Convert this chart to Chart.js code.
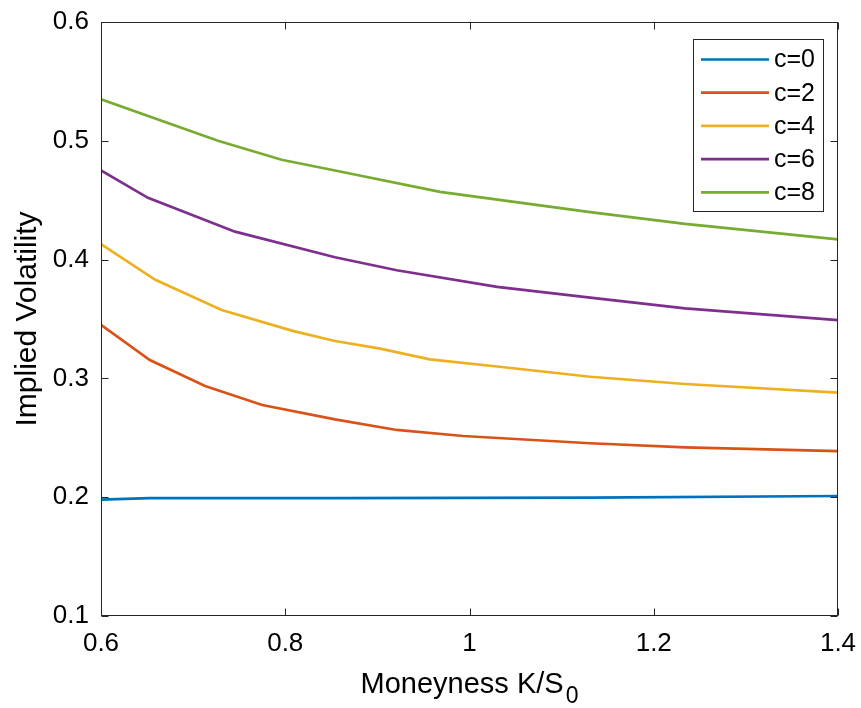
<!DOCTYPE html>
<html><head><meta charset="utf-8">
<script src="https://cdn.jsdelivr.net/npm/chart.js@4.4.1/dist/chart.umd.min.js"></script>
<style>html,body{margin:0;padding:0;background:#fff;overflow:hidden}</style>
</head><body>
<canvas id="c" width="861" height="708"></canvas>
<script>
// ---- data ----
const seriesLabels = ['c=0', 'c=2', 'c=4', 'c=6', 'c=8'];
const seriesColors = ['#0072BD', '#D95319', '#EDB120', '#7E2F8E', '#77AC30'];
const xC0 = [0.6, 0.653, 0.854, 1.131, 1.4];
const yC0 = [0.198, 0.1992, 0.1993, 0.1996, 0.201];
const xC2 = [0.6, 0.653, 0.713, 0.775, 0.854, 0.921, 0.993, 1.131, 1.234, 1.4];
const yC2 = [0.345, 0.3155, 0.2936, 0.2776, 0.2655, 0.2566, 0.2515, 0.2454, 0.242, 0.2388];
const xC4 = [0.6, 0.659, 0.731, 0.808, 0.854, 0.903, 0.957, 1.03, 1.131, 1.234, 1.4];
const yC4 = [0.413, 0.383, 0.3576, 0.340, 0.3315, 0.325, 0.316, 0.310, 0.3014, 0.2953, 0.288];
const xC6 = [0.6, 0.651, 0.7455, 0.854, 0.921, 1.03, 1.131, 1.234, 1.4];
const yC6 = [0.475, 0.452, 0.4235, 0.402, 0.391, 0.377, 0.368, 0.359, 0.349];
const xC8 = [0.6, 0.727, 0.796, 0.854, 0.968, 1.131, 1.234, 1.4];
const yC8 = [0.535, 0.5, 0.484, 0.475, 0.457, 0.440, 0.430, 0.417];
const xTicks = [0.6, 0.8, 1, 1.2, 1.4];
const yTicks = [0.1, 0.2, 0.3, 0.4, 0.5, 0.6];
const xTitleMain = 'Moneyness K/S';
const xTitleSub = '0';
const yTitle = 'Implied Volatility';

const seriesX = [xC0, xC2, xC4, xC6, xC8];
const seriesY = [yC0, yC2, yC4, yC6, yC8];

const FONT = "'Liberation Sans', Arial, Helvetica, sans-serif";
const INK = '#262626';

const datasets = seriesLabels.map((lab, i) => ({
  label: lab,
  data: seriesX[i].map((x, j) => ({x: x, y: seriesY[i][j]})),
  borderColor: seriesColors[i],
  backgroundColor: seriesColors[i],
  borderWidth: 2.7,
  pointRadius: 0,
  tension: 0,
  fill: false
}));

// inward MATLAB-style ticks and axes box
const boxPlugin = {
  id: 'matlabBox',
  afterDatasetsDraw(chart) {
    const {ctx, chartArea: a, scales} = chart;
    ctx.save();
    ctx.strokeStyle = INK;
    ctx.lineWidth = 1;
    const L = Math.round(a.left) + 0.5, R = Math.round(a.right) - 0.5;
    const T = Math.round(a.top) + 0.5, B = Math.round(a.bottom) - 0.5;
    ctx.strokeRect(L, T, R - L, B - T);
    const tl = 7;
    ctx.beginPath();
    xTicks.forEach(v => {
      const px = Math.round(scales.x.getPixelForValue(v)) + 0.5;
      ctx.moveTo(px, B); ctx.lineTo(px, B - tl);
      ctx.moveTo(px, T); ctx.lineTo(px, T + tl);
    });
    yTicks.forEach(v => {
      const py = Math.round(scales.y.getPixelForValue(v)) + 0.5;
      ctx.moveTo(L, py); ctx.lineTo(L + tl, py);
      ctx.moveTo(R, py); ctx.lineTo(R - tl, py);
    });
    ctx.stroke();
    ctx.restore();
  }
};

// x-axis title with a real subscript
const xTitlePlugin = {
  id: 'xTitleSub',
  afterDraw(chart) {
    const {ctx, chartArea: a} = chart;
    ctx.save();
    ctx.fillStyle = '#000';
    ctx.textBaseline = 'alphabetic';
    ctx.textAlign = 'left';
    const mainFont = '29px ' + FONT, subFont = '23px ' + FONT;
    ctx.font = mainFont;
    const w1 = ctx.measureText(xTitleMain).width;
    ctx.font = subFont;
    const w2 = ctx.measureText(xTitleSub).width;
    const cx = (a.left + a.right) / 2;
    const x0 = cx - (w1 + 2 + w2) / 2;
    const base = 693;
    ctx.font = mainFont;
    ctx.fillText(xTitleMain, x0, base);
    ctx.font = subFont;
    ctx.fillText(xTitleSub, x0 + w1 + 2, base + 10);
    ctx.restore();
  }
};

// boxed legend inside the plot, upper right
const legendPlugin = {
  id: 'boxLegend',
  afterDraw(chart) {
    const {ctx} = chart;
    const bx = 693.5, by = 39.5, bw = 130, bh = 172;
    ctx.save();
    ctx.fillStyle = '#fff';
    ctx.fillRect(bx, by, bw, bh);
    ctx.strokeStyle = INK;
    ctx.lineWidth = 1;
    ctx.strokeRect(bx, by, bw, bh);
    ctx.font = '25px ' + FONT;
    ctx.textBaseline = 'middle';
    ctx.textAlign = 'left';
    chart.data.datasets.forEach((ds, i) => {
      const y = 59.5 + i * 33.2;
      ctx.strokeStyle = ds.borderColor;
      ctx.lineWidth = 2.7;
      ctx.beginPath();
      ctx.moveTo(701, y); ctx.lineTo(769, y);
      ctx.stroke();
      ctx.fillStyle = '#000';
      ctx.fillText(ds.label, 774, y + 1);
    });
    ctx.restore();
  }
};

new Chart(document.getElementById('c'), {
  type: 'line',
  data: {datasets},
  options: {
    responsive: false,
    animation: false,
    devicePixelRatio: 1,
    layout: {padding: {left: 0, right: 23, top: 22, bottom: 0}},
    plugins: {legend: {display: false}, tooltip: {enabled: false}},
    scales: {
      x: {
        type: 'linear', min: 0.6, max: 1.4,
        afterBuildTicks: s => { s.ticks = xTicks.map(v => ({value: v})); },
        afterFit: s => { s.height = 92; s.paddingLeft = 0; s.paddingRight = 0; },
        ticks: {
          callback: v => String(Math.round(v * 10) / 10),
          font: {family: FONT, size: 26}, color: '#000', padding: 12, maxRotation: 0, autoSkip: false
        },
        grid: {display: false, drawTicks: false},
        border: {display: false},
        title: {display: false}
      },
      y: {
        type: 'linear', min: 0.1, max: 0.6,
        afterBuildTicks: s => { s.ticks = yTicks.map(v => ({value: v})); },
        afterFit: s => { s.width = 101; s.paddingTop = 0; s.paddingBottom = 0; },
        ticks: {
          callback: v => v.toFixed(1),
          font: {family: FONT, size: 26}, color: '#000', padding: 12, autoSkip: false
        },
        grid: {display: false, drawTicks: false},
        border: {display: false},
        title: {display: true, text: yTitle, color: '#000', font: {family: FONT, size: 30}, padding: {top: 10, bottom: 0}}
      }
    }
  },
  plugins: [boxPlugin, xTitlePlugin, legendPlugin]
});
</script>
</body></html>
